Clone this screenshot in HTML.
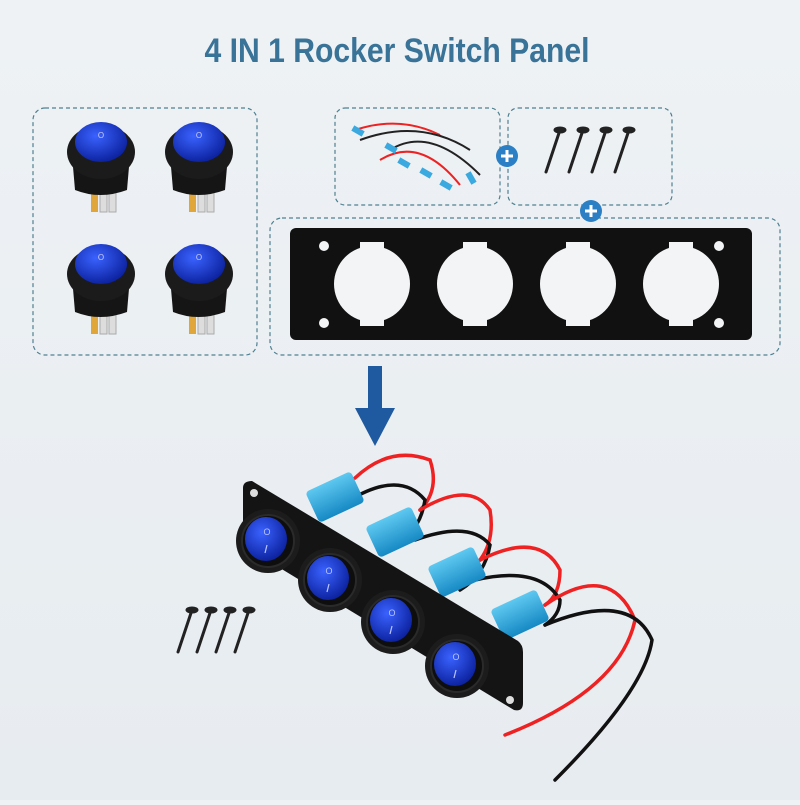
<!DOCTYPE html>
<html><head><meta charset="utf-8"><style>
html,body{margin:0;padding:0;}
body{width:800px;height:800px;overflow:hidden;background:linear-gradient(180deg,#eef2f5,#e7ecf0);}
</style></head><body>
<svg width="800" height="800" viewBox="0 0 800 800" xmlns="http://www.w3.org/2000/svg">
<defs>
<radialGradient id="bl" cx="40%" cy="35%" r="70%"><stop offset="0" stop-color="#3a62ff"/><stop offset="1" stop-color="#0a1f9a"/></radialGradient>
<linearGradient id="cy" x1="0" y1="0" x2="0" y2="1"><stop offset="0" stop-color="#5ec8f0"/><stop offset="1" stop-color="#1689c4"/></linearGradient>
<g id="sw">
<rect x="-9" y="36" width="7" height="26" fill="#e0a63a"/><rect x="0" y="40" width="7" height="22" fill="#ddd" stroke="#aaa"/><rect x="9" y="40" width="7" height="22" fill="#ddd" stroke="#aaa"/>
<path d="M-28,5 L-25,40 Q0,50 27,40 L30,5 Z" fill="#151515"/>
<ellipse cx="1" cy="2" rx="34" ry="27" fill="#1b1b1b"/>
<ellipse cx="1" cy="-8" rx="26" ry="20" fill="url(#bl)"/>
<text x="1" y="-12" text-anchor="middle" font-size="8" fill="#cce" font-family="Liberation Sans,sans-serif">O</text>
</g>
<g id="sc" stroke="#222" stroke-linecap="round">
<line x1="0" y1="0" x2="-14" y2="42" stroke-width="3"/>
<ellipse cx="0" cy="0" rx="6" ry="3" fill="#222"/>
</g>
<g id="as">
<circle cx="0" cy="0" r="32" fill="#1c1c1c"/>
<circle cx="0" cy="0" r="26" fill="#0e0e0e" stroke="#2a2a2a" stroke-width="2"/>
<ellipse cx="-2" cy="-2" rx="21" ry="22" fill="url(#bl)"/>
<text x="-1" y="-6" text-anchor="middle" font-size="9" fill="#b8c4ff" font-family="Liberation Sans,sans-serif">O</text>
<line x1="-1" y1="4" x2="-3" y2="12" stroke="#b8c4ff" stroke-width="1.2"/>
</g>
</defs>
<text x="397" y="62" text-anchor="middle" font-family="Liberation Sans Narrow, Liberation Sans, sans-serif" font-weight="bold" font-size="34" fill="#3a7398" textLength="385" lengthAdjust="spacingAndGlyphs">4 IN 1 Rocker Switch Panel</text>

<g fill="none" stroke="#4f8090" stroke-width="1.2" stroke-dasharray="4,3">
<rect x="33" y="108" width="224" height="247" rx="12"/>
<rect x="335" y="108" width="165" height="97" rx="10"/>
<rect x="508" y="108" width="164" height="97" rx="10"/>
<rect x="270" y="218" width="510" height="137" rx="12"/>
</g>

<use href="#sw" x="100" y="150"/>
<use href="#sw" x="198" y="150"/>
<use href="#sw" x="100" y="272"/>
<use href="#sw" x="198" y="272"/>

<g fill="none" stroke-width="2">
<path d="M355,130 Q400,115 440,135" stroke="#e22"/>
<path d="M360,140 Q420,118 470,150" stroke="#222"/>
<path d="M390,150 Q430,125 480,175" stroke="#222"/>
<path d="M380,160 Q420,135 460,185" stroke="#e22"/>
</g>
<g fill="#3aa9e0">
<rect x="352" y="128" width="12" height="6" transform="rotate(30 358 131)"/>
<rect x="385" y="145" width="12" height="6" transform="rotate(30 391 148)"/>
<rect x="398" y="160" width="12" height="6" transform="rotate(30 404 163)"/>
<rect x="420" y="170" width="12" height="6" transform="rotate(30 426 173)"/>
<rect x="440" y="182" width="12" height="6" transform="rotate(30 446 185)"/>
<rect x="465" y="175" width="12" height="6" transform="rotate(60 471 178)"/>
</g>
<use href="#sc" x="560" y="130"/><use href="#sc" x="583" y="130"/><use href="#sc" x="606" y="130"/><use href="#sc" x="629" y="130"/>
<use href="#sc" x="192" y="610"/><use href="#sc" x="211" y="610"/><use href="#sc" x="230" y="610"/><use href="#sc" x="249" y="610"/>

<g><circle cx="507" cy="156" r="11" fill="#2b7fc4"/><path d="M501,156h12M507,150v12" stroke="#fff" stroke-width="3"/></g>
<g><circle cx="591" cy="211" r="11" fill="#2b7fc4"/><path d="M585,211h12M591,205v12" stroke="#fff" stroke-width="3"/></g>

<rect x="290" y="228" width="462" height="112" rx="6" fill="#111"/>
<g fill="#f2f4f6">
<circle cx="372" cy="284" r="38"/><circle cx="475" cy="284" r="38"/><circle cx="578" cy="284" r="38"/><circle cx="681" cy="284" r="38"/>
<rect x="360" y="242" width="24" height="8"/><rect x="463" y="242" width="24" height="8"/><rect x="566" y="242" width="24" height="8"/><rect x="669" y="242" width="24" height="8"/>
<rect x="360" y="318" width="24" height="8"/><rect x="463" y="318" width="24" height="8"/><rect x="566" y="318" width="24" height="8"/><rect x="669" y="318" width="24" height="8"/>
<circle cx="324" cy="246" r="5"/><circle cx="324" cy="323" r="5"/><circle cx="719" cy="246" r="5"/><circle cx="719" cy="323" r="5"/>
</g>

<path d="M368,366 h14 v42 h13 l-20,38 l-20,-38 h13 z" fill="#1f5aa0"/>

<g fill="none" stroke-width="3.5" stroke-linecap="round">
<path d="M355,478 Q390,445 430,460 Q440,490 420,510" stroke="#e22"/>
<path d="M350,500 Q400,470 425,500 Q420,530 400,540" stroke="#111"/>
<path d="M420,510 Q470,480 490,510 Q495,540 480,560" stroke="#e22"/>
<path d="M415,540 Q470,520 490,545 Q485,575 460,590" stroke="#111"/>
<path d="M480,560 Q540,530 560,570 Q560,595 545,605" stroke="#e22"/>
<path d="M475,580 Q540,565 560,600 Q560,615 545,625" stroke="#111"/>
<path d="M545,605 Q610,560 635,620 Q620,690 505,735" stroke="#e22"/>
<path d="M545,625 Q630,590 652,640 Q645,690 555,780" stroke="#111"/>
</g>
<g fill="url(#cy)">
<rect x="310" y="480" width="50" height="34" rx="4" transform="rotate(-25 335 497)"/>
<rect x="370" y="515" width="50" height="34" rx="4" transform="rotate(-25 395 532)"/>
<rect x="432" y="555" width="50" height="34" rx="4" transform="rotate(-25 457 572)"/>
<rect x="495" y="598" width="50" height="34" rx="4" transform="rotate(-25 520 615)"/>
</g>
<path d="M243,488 Q243,481 252,481 L518,641 Q523,645 523,652 L523,703 Q523,712 514,710 L247,548 Q243,545 243,540 Z" fill="#141414"/>
<circle cx="254" cy="493" r="4" fill="#ddd"/><circle cx="510" cy="700" r="4" fill="#ddd"/>
<use href="#as" x="268" y="541"/>
<use href="#as" x="330" y="580"/>
<use href="#as" x="393" y="622"/>
<use href="#as" x="457" y="666"/>
</svg>
</body></html>
